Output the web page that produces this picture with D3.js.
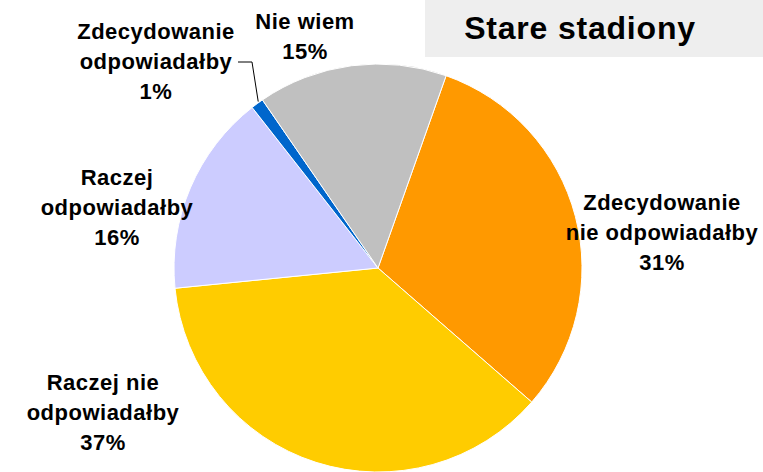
<!DOCTYPE html>
<html>
<head>
<meta charset="utf-8">
<script src="https://d3js.org/d3.v7.min.js"></script>
<style>
  body { margin: 0; background: #fff; }
  text { font-family: "Liberation Sans", Arial, sans-serif; font-weight: bold; }
</style>
</head>
<body>
<script>
var width = 763;
var height = 472;

var categories = ["Zdecydowanie nie odpowiadałby", "Raczej nie odpowiadałby", "Raczej odpowiadałby", "Zdecydowanie odpowiadałby", "Nie wiem"];
var values = [31, 37, 16, 1, 15];
var colors = ["#FF9900", "#FFCC00", "#CCCCFF", "#0066CC", "#C0C0C0"];
var labelLines = [
    ["Zdecydowanie", "nie odpowiadałby", "31%"],
    ["Raczej nie", "odpowiadałby", "37%"],
    ["Raczej", "odpowiadałby", "16%"],
    ["Zdecydowanie", "odpowiadałby", "1%"],
    ["Nie wiem", "15%"]
];
var title = "Stare stadiony";

var cx = 378, cy = 268, radius = 204;
var startAngle = 19.5 * Math.PI / 180;

// label positions (center x, first line y)
var labelPos = [
    [662, 210],
    [103, 390],
    [117, 185],
    [156, 39],
    [305, 29]
];
var lineHeight = 30;

var svg = d3.select("body").append("svg")
    .attr("width", width)
    .attr("height", height);

// title box
svg.append("rect")
    .attr("x", 425)
    .attr("y", 0)
    .attr("width", width - 425)
    .attr("height", 57)
    .attr("fill", "#EEEEEE");

svg.append("text")
    .attr("x", 580)
    .attr("y", 39)
    .attr("text-anchor", "middle")
    .attr("font-size", 32)
    .attr("letter-spacing", 0.8)
    .attr("fill", "#000")
    .text(title);

var pie = d3.pie()
    .sort(null)
    .startAngle(startAngle)
    .endAngle(startAngle + 2 * Math.PI);

var arc = d3.arc()
    .innerRadius(0)
    .outerRadius(radius);

var arcs = pie(values);

var g = svg.append("g")
    .attr("transform", "translate(" + cx + "," + cy + ")");

g.selectAll("path")
    .data(arcs)
    .enter()
    .append("path")
    .attr("d", arc)
    .attr("fill", function(d, i) { return colors[i]; })
    .attr("stroke", "#fff")
    .attr("stroke-width", 1);

// leader line for the small slice
var small = arcs[3];
var mid = (small.startAngle + small.endAngle) / 2;
var px = cx + Math.sin(mid) * radius;
var py = cy - Math.cos(mid) * radius;
svg.append("polyline")
    .attr("points", [[238, 62], [252, 62], [px + 1, py - 2]].map(function(p) { return p.join(","); }).join(" "))
    .attr("fill", "none")
    .attr("stroke", "#000")
    .attr("stroke-width", 1);

// labels
labelLines.forEach(function(lines, i) {
    var t = svg.append("text")
        .attr("text-anchor", "middle")
        .attr("font-size", 22)
        .attr("letter-spacing", 0.5)
        .attr("fill", "#000");
    lines.forEach(function(line, j) {
        t.append("tspan")
            .attr("x", labelPos[i][0])
            .attr("y", labelPos[i][1] + j * lineHeight)
            .text(line);
    });
});
</script>
</body>
</html>
